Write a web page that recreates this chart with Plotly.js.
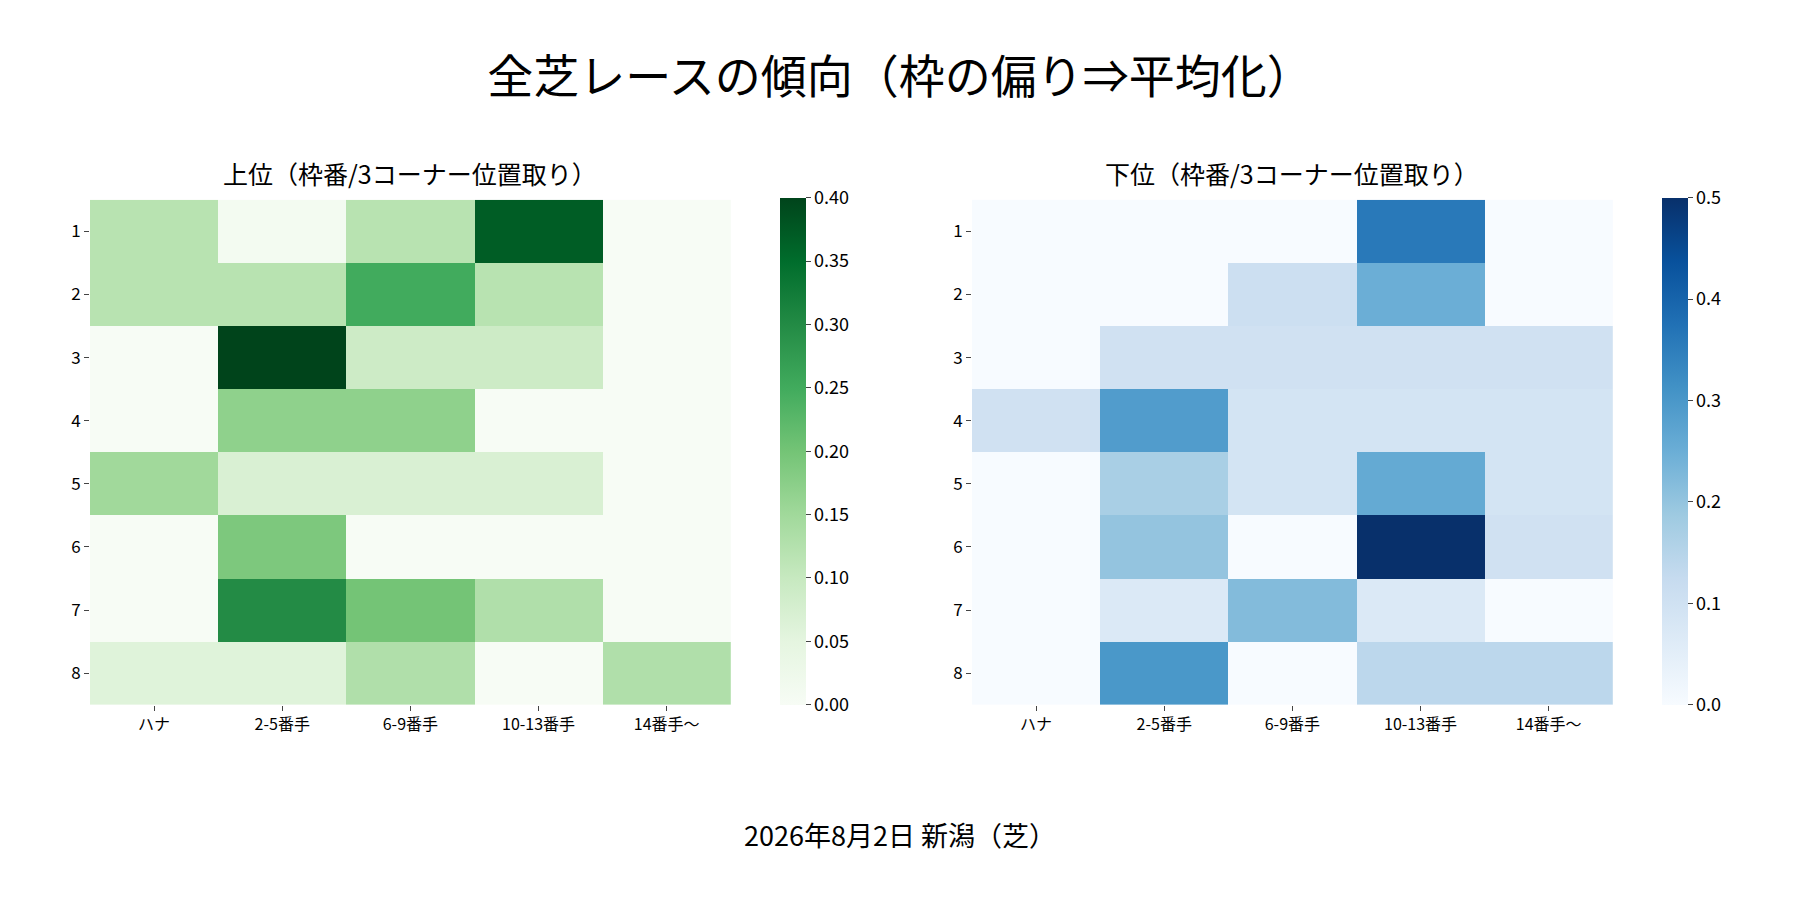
<!DOCTYPE html>
<html><head><meta charset="utf-8">
<script src="https://cdn.plot.ly/plotly-3.0.1.min.js"></script>
<style>body{margin:0}#chart{width:1800px;height:900px}</style>
</head><body><div id="chart"></div>
<script>
var positions = ['ハナ', '2-5番手', '6-9番手', '10-13番手', '14番手〜'];
var gates = ['1', '2', '3', '4', '5', '6', '7', '8'];
var topValues = [
  [0.12, 0.01, 0.12, 0.37, 0.00],
  [0.12, 0.12, 0.25, 0.12, 0.00],
  [0.00, 0.40, 0.09, 0.09, 0.00],
  [0.00, 0.17, 0.17, 0.00, 0.00],
  [0.15, 0.07, 0.07, 0.07, 0.00],
  [0.00, 0.19, 0.00, 0.00, 0.00],
  [0.00, 0.30, 0.20, 0.13, 0.00],
  [0.06, 0.06, 0.13, 0.00, 0.13]
];
var bottomValues = [
  [0.00, 0.00, 0.00, 0.36, 0.00],
  [0.00, 0.00, 0.11, 0.25, 0.00],
  [0.00, 0.10, 0.10, 0.10, 0.10],
  [0.10, 0.29, 0.09, 0.09, 0.09],
  [0.00, 0.17, 0.09, 0.26, 0.09],
  [0.00, 0.20, 0.00, 0.50, 0.10],
  [0.00, 0.07, 0.22, 0.07, 0.00],
  [0.00, 0.30, 0.00, 0.14, 0.14]
];

function scale(cols) {
  return cols.map(function (c, i) { return [i / (cols.length - 1), c]; });
}
var greens = scale(['#f7fcf5','#e5f5e0','#c7e9c0','#a1d99b','#74c476','#41ab5d','#238b45','#006d2c','#00441b']);
var blues = scale(['#f7fbff','#deebf7','#c6dbef','#9ecae1','#6baed6','#4292c6','#2171b5','#08519c','#08306b']);

var font = "'Noto Sans CJK JP', 'Noto Sans', sans-serif";
var cb = { thickness: 26, len: 0.563, y: 0.217, yanchor: 'bottom', ypad: 0, outlinewidth: 0, ticks: 'outside', ticklen: 5, tickfont: { size: 18 } };

var data = [
  { type: 'heatmap', x: positions, y: gates, z: topValues, colorscale: greens, zmin: 0, zmax: 0.4,
    colorbar: Object.assign({}, cb, { x: 0.428, xanchor: 'left', dtick: 0.05, tickformat: '.2f' }) },
  { type: 'heatmap', x: positions, y: gates, z: bottomValues, colorscale: blues, zmin: 0, zmax: 0.5, xaxis: 'x2', yaxis: 'y2',
    colorbar: Object.assign({}, cb, { x: 0.918, xanchor: 'left', dtick: 0.1, tickformat: '.1f' }) }
];

var ax = { ticks: 'outside', ticklen: 5, showgrid: false, zeroline: false, showline: false, tickfont: { size: 16 } };
var yax = Object.assign({}, ax, { autorange: 'reversed', domain: [0.217, 0.778], tickfont: { size: 17 } });

var layout = {
  font: { family: font, color: '#000' },
  margin: { l: 0, r: 0, t: 0, b: 0 },
  paper_bgcolor: '#fff', plot_bgcolor: '#fff',
  title: { text: '全芝レースの傾向（枠の偏り⇒平均化）', x: 0.5, xanchor: 'center', y: 0.915, yanchor: 'middle', font: { size: 46 } },
  xaxis: Object.assign({}, ax, { domain: [0.05, 0.406] }),
  yaxis: Object.assign({}, yax, { anchor: 'x' }),
  xaxis2: Object.assign({}, ax, { domain: [0.54, 0.896], anchor: 'y2' }),
  yaxis2: Object.assign({}, yax, { anchor: 'x2' }),
  annotations: [
    { text: '上位（枠番/3コーナー位置取り）', xref: 'paper', yref: 'paper', x: 0.228, xanchor: 'center', y: 0.785, yanchor: 'bottom', showarrow: false, font: { size: 25 } },
    { text: '下位（枠番/3コーナー位置取り）', xref: 'paper', yref: 'paper', x: 0.718, xanchor: 'center', y: 0.785, yanchor: 'bottom', showarrow: false, font: { size: 25 } },
    { text: '2026年8月2日 新潟（芝）', xref: 'paper', yref: 'paper', x: 0.5, xanchor: 'center', y: 0.073, yanchor: 'middle', showarrow: false, font: { size: 27 } }
  ]
};

Plotly.newPlot('chart', data, layout, { responsive: true, displayModeBar: false });
</script></body></html>
